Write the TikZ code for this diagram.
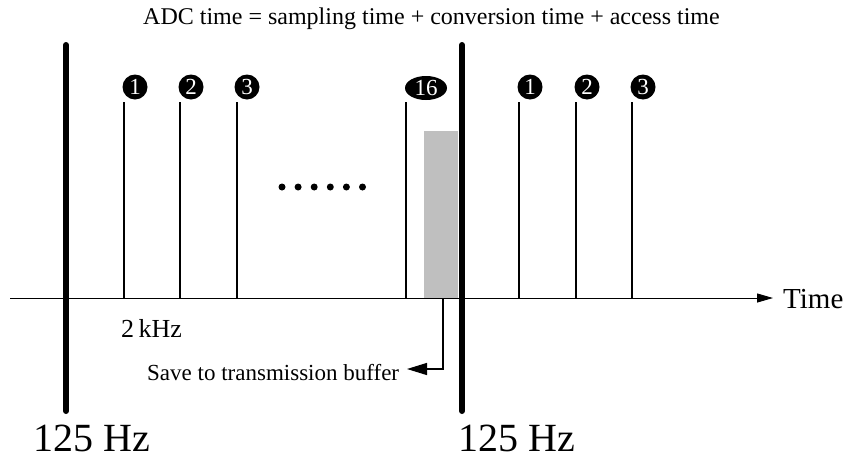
\documentclass[tikz,border=0pt]{standalone}
\usepackage{fontspec}
\setmainfont{Liberation Serif}
\usetikzlibrary{arrows.meta,shapes.geometric}
\begin{document}
\begin{tikzpicture}[x=1pt,y=-1pt,
  bar/.style={line width=6pt,line cap=round},
  tick/.style={line width=1.4pt},
  num/.style={circle,fill=black,text=white,inner sep=0pt,minimum size=25pt,font=\fontsize{23}{23}\selectfont},
  lbl/.style={inner sep=0pt,anchor=base west},
  dot/.style={circle,fill=black,inner sep=0pt,minimum size=7pt}]
\useasboundingbox (0,0) rectangle (848,461);
% title
\node[lbl,font=\fontsize{24}{24}\selectfont] (title) at (143,24) {ADC time = sampling time + conversion time + access time};
% gray buffer box
\fill[gray!50] (424,131) rectangle (458,298);
% axis
\coordinate (a0) at (10,298);
\coordinate (a1) at (773,298);
\draw[line width=1pt,-{Triangle[length=16pt,width=9pt]}] (a0) -- (a1);
\node[lbl,font=\fontsize{29}{29}\selectfont] (time) at (783,308) {Time};
% ticks
\foreach \x/\n in {124/t1,180/t2,237/t3,406/t16,519/u1,576/u2,632/u3}{
  \coordinate (\n top) at (\x,102);
  \coordinate (\n bot) at (\x,298);
  \draw[tick] (\n top) -- (\n bot);
}
% number badges
\node[num] (n1) at (135,87) {1};
\node[num] (n2) at (191,87) {2};
\node[num] (n3) at (247,87) {3};
\node[num,ellipse,minimum width=42pt,minimum height=24pt] (n16) at (426,88) {16};
\node[num] (m1) at (530,87) {1};
\node[num] (m2) at (587,87) {2};
\node[num] (m3) at (643,87) {3};
% dots
\foreach \i in {0,...,5}{
  \node[dot] (d\i) at (282+16.1*\i,187) {};
}
% thick bars
\coordinate (b1t) at (66,45); \coordinate (b1b) at (66,411);
\coordinate (b2t) at (462,45); \coordinate (b2b) at (462,411);
\draw[bar] (b1t) -- (b1b);
\draw[bar] (b2t) -- (b2b);
% labels
\node[lbl,font=\fontsize{26}{26}\selectfont] (khz) at (121,337) {2\,kHz};
\node[lbl,font=\fontsize{23}{23}\selectfont] (save) at (147,380) {Save to transmission buffer};
\coordinate (s0) at (443,298);
\coordinate (s1) at (443,369);
\coordinate (s2) at (407,369);
\draw[line width=1.3pt,-{Triangle[length=20pt,width=12pt]}] (s0) -- (s1) -- (s2);
\node[lbl,font=\fontsize{40}{40}\selectfont] (hz1) at (33,451) {125 Hz};
\node[lbl,font=\fontsize{40}{40}\selectfont] (hz2) at (458,451) {125 Hz};
\end{tikzpicture}
\end{document}
